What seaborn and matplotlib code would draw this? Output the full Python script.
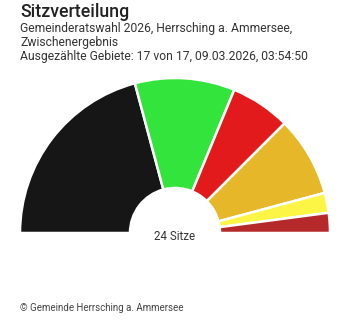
import seaborn as sns
import matplotlib.pyplot as plt

# Sitzverteilung Gemeinderat Herrsching
parteien = ['Partei A', 'Partei B', 'Partei C', 'Partei D', 'Partei E', 'Partei F']
sitze = [10, 5, 3, 4, 1, 1]
farben = ['#161616', '#33e43d', '#e31a1c', '#e6b728', '#fdf545', '#b5292b']

sns.set_theme(style='white')
plt.rcParams['font.family'] = ['Roboto', 'DejaVu Sans']

fig = plt.figure(figsize=(3.52, 3.2), dpi=100)
ax = fig.add_axes([20 / 352, (87 - 155) / 320, 310 / 352, 310 / 320])

# unsichtbare untere Hälfte, damit nur ein Halbkreis gezeichnet wird
werte = sitze + [sum(sitze)]
cols = farben + ['none']
wedges, _ = ax.pie(werte, colors=cols, startangle=180, counterclock=False,
                   radius=1.0,
                   wedgeprops=dict(width=1 - 45 / 155, edgecolor='white', linewidth=1.8))
wedges[-1].set_edgecolor('none')
ax.set_xlim(-1, 1)
ax.set_ylim(-1, 1)
ax.set_aspect('equal')
ax.axis('off')

ax.text(0, -0.025, f'{sum(sitze)} Sitze', ha='center', va='center', fontsize=8.4, color='#333333')

def zeile(y, s, **kw):
    fig.text(20 / 352, 1 - y / 320, s, ha='left', va='baseline', **kw)

zeile(17, 'Sitzverteilung', fontsize=12.8, fontweight=500, color='#222222')
zeile(32, 'Gemeinderatswahl 2026, Herrsching a. Ammersee,', fontsize=8.7, color='#333333')
zeile(46, 'Zwischenergebnis', fontsize=8.7, color='#333333')
zeile(60, 'Ausgezählte Gebiete: 17 von 17, 09.03.2026, 03:54:50', fontsize=8.7, color='#333333')
zeile(311, '© Gemeinde Herrsching a. Ammersee', fontsize=7, color='#444444')

fig.savefig('out.png', dpi=100)
